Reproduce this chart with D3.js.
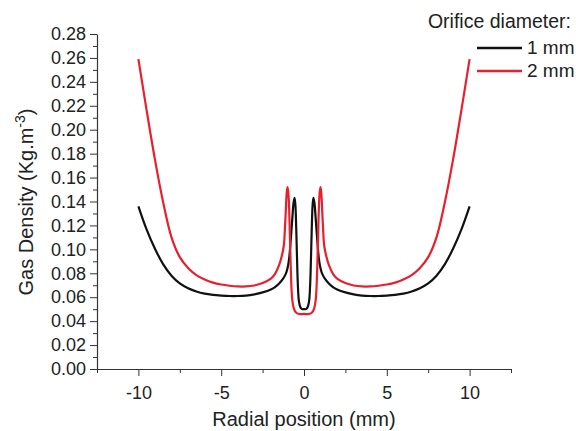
<!DOCTYPE html>
<html>
<head>
<meta charset="utf-8">
<script src="https://cdn.jsdelivr.net/npm/d3@7"></script>
<style>
  body { margin: 0; background: #fff; }
  svg { font-family: "Liberation Sans", Arial, sans-serif; }
</style>
</head>
<body>
<svg id="chart" width="576" height="431"></svg>
<script>
// radial positions (mm) for each series
const xs1mm = [-10, -9.5, -9, -8.5, -8, -7.5, -7, -6.5, -6, -5.5, -5, -4.5, -4, -3.5, -3, -2.5, -2, -1.75, -1.5, -1.25, -1.1, -1, -0.9, -0.8, -0.7, -0.63, -0.57, -0.52, -0.47, -0.42, -0.37, -0.3, -0.2, -0.1, 0,
               0.1, 0.2, 0.3, 0.37, 0.42, 0.47, 0.52, 0.57, 0.63, 0.7, 0.8, 0.9, 1, 1.1, 1.25, 1.5, 1.75, 2, 2.5, 3, 3.5, 4, 4.5, 5, 5.5, 6, 6.5, 7, 7.5, 8, 8.5, 9, 9.5, 10];
const density1mm = [0.136, 0.1165, 0.1005, 0.0875, 0.078, 0.0715, 0.0675, 0.0648, 0.063, 0.062, 0.0614, 0.061, 0.061, 0.0614, 0.0624, 0.064, 0.0665, 0.0685, 0.0715, 0.0758, 0.0795, 0.084, 0.092, 0.108, 0.127, 0.139, 0.143, 0.137, 0.118, 0.092, 0.070, 0.056, 0.051, 0.050, 0.050,
                    0.050, 0.051, 0.056, 0.070, 0.092, 0.118, 0.137, 0.143, 0.139, 0.127, 0.108, 0.092, 0.084, 0.0795, 0.0758, 0.0715, 0.0685, 0.0665, 0.064, 0.0624, 0.0614, 0.061, 0.061, 0.0614, 0.062, 0.063, 0.0648, 0.0675, 0.0715, 0.078, 0.0875, 0.1005, 0.1165, 0.136];

const xs2mm = [-10, -9.5, -9, -8.5, -8, -7.5, -7, -6.5, -6, -5.5, -5, -4.5, -4, -3.5, -3, -2.5, -2, -1.75, -1.5, -1.35, -1.22, -1.15, -1.1, -1.05, -1, -0.95, -0.9, -0.85, -0.8, -0.75, -0.7, -0.6, -0.5, -0.3, 0,
               0.3, 0.5, 0.6, 0.7, 0.75, 0.8, 0.85, 0.9, 0.95, 1, 1.05, 1.1, 1.15, 1.22, 1.35, 1.5, 1.75, 2, 2.5, 3, 3.5, 4, 4.5, 5, 5.5, 6, 6.5, 7, 7.5, 8, 8.5, 9, 9.5, 10];
const density2mm = [0.259, 0.216, 0.175, 0.139, 0.110, 0.0935, 0.0845, 0.0785, 0.0748, 0.0722, 0.0706, 0.0696, 0.069, 0.069, 0.0698, 0.0718, 0.0755, 0.0795, 0.087, 0.094, 0.103, 0.118, 0.132, 0.146, 0.152, 0.148, 0.135, 0.110, 0.085, 0.066, 0.057, 0.050, 0.0475, 0.046, 0.046,
                    0.046, 0.0475, 0.050, 0.057, 0.066, 0.085, 0.110, 0.135, 0.148, 0.152, 0.146, 0.132, 0.118, 0.103, 0.094, 0.087, 0.0795, 0.0755, 0.0718, 0.0698, 0.069, 0.069, 0.0696, 0.0706, 0.0722, 0.0748, 0.0785, 0.0845, 0.0935, 0.110, 0.139, 0.175, 0.216, 0.259];

const xTicks = [-10, -5, 0, 5, 10];
const xMinorTicks = [-12.5, -7.5, -2.5, 2.5, 7.5, 12.5];
const yTicks = [0, 0.02, 0.04, 0.06, 0.08, 0.10, 0.12, 0.14, 0.16, 0.18, 0.20, 0.22, 0.24, 0.26, 0.28];
const yMinorTicks = [0.01, 0.03, 0.05, 0.07, 0.09, 0.11, 0.13, 0.15, 0.17, 0.19, 0.21, 0.23, 0.25, 0.27];

const seriesNames = ["1 mm", "2 mm"];
const seriesColors = ["#111111", "#e8202e"];

const svg = d3.select('#chart');
const textColor = '#222';

const x = d3.scaleLinear().domain([-12.5, 12.5]).range([97, 511]);
const y = d3.scaleLinear().domain([0, 0.28]).range([369, 34]);

// minor ticks first so the major axis draws over them
svg.append('g')
  .attr('transform', `translate(0,${y(0)})`)
  .call(d3.axisBottom(x).tickValues(xMinorTicks).tickSize(4).tickFormat(''))
  .call(g => g.select('.domain').remove())
  .selectAll('line').attr('stroke', '#333');

svg.append('g')
  .attr('transform', `translate(${x(-12.5)},0)`)
  .call(d3.axisLeft(y).tickValues(yMinorTicks).tickSize(4).tickFormat(''))
  .call(g => g.select('.domain').remove())
  .selectAll('line').attr('stroke', '#333');

const xAxis = svg.append('g')
  .attr('transform', `translate(0,${y(0)})`)
  .call(d3.axisBottom(x).tickValues(xTicks).tickSize(7).tickSizeOuter(0).tickPadding(6)
    .tickFormat(d => String(d)));   // plain hyphen like the original

const yAxis = svg.append('g')
  .attr('transform', `translate(${x(-12.5)},0)`)
  .call(d3.axisLeft(y).tickValues(yTicks).tickSize(7).tickSizeOuter(0).tickPadding(4).tickFormat(d3.format('.2f')));

[xAxis, yAxis].forEach(g => {
  g.select('.domain').attr('stroke', '#333').attr('stroke-width', 1.2);
  g.selectAll('.tick line').attr('stroke', '#333');
  g.selectAll('.tick text').attr('fill', textColor).attr('font-size', 18)
    .attr('font-family', '"Liberation Sans", Arial, sans-serif');
});
xAxis.selectAll('.tick text').attr('dy', '0.95em');

// axis titles
svg.append('text')
  .attr('x', (x(-12.5) + x(12.5)) / 2)
  .attr('y', 426)
  .attr('text-anchor', 'middle')
  .attr('font-size', 20)
  .attr('fill', textColor)
  .text('Radial position (mm)');

const yTitle = svg.append('text')
  .attr('transform', 'translate(33,202) rotate(-90)')
  .attr('text-anchor', 'middle')
  .attr('font-size', 20)
  .attr('fill', textColor);
yTitle.append('tspan').text('Gas Density (Kg.m');
yTitle.append('tspan').attr('font-size', 14).attr('dy', -8).text('-3');
yTitle.append('tspan').attr('dy', 8).text(')');

// curves
const line = d3.line()
  .x(d => x(d[0]))
  .y(d => y(d[1]))
  .curve(d3.curveCatmullRom.alpha(0.5));

const series = [
  d3.zip(xs1mm, density1mm),
  d3.zip(xs2mm, density2mm)
];

series.forEach((s, i) => {
  svg.append('path')
    .datum(s)
    .attr('fill', 'none')
    .attr('stroke', seriesColors[i])
    .attr('stroke-width', 2.2)
    .attr('stroke-linejoin', 'round')
    .attr('d', line);
});

// legend
svg.append('text')
  .attr('x', 571)
  .attr('y', 28)
  .attr('text-anchor', 'end')
  .attr('font-size', 19.5)
  .attr('fill', textColor)
  .text('Orifice diameter:');

seriesNames.forEach((name, i) => {
  const ly = 48 + i * 23;
  svg.append('line')
    .attr('x1', 477).attr('x2', 522)
    .attr('y1', ly).attr('y2', ly)
    .attr('stroke', seriesColors[i])
    .attr('stroke-width', 2.4);
  svg.append('text')
    .attr('x', 527)
    .attr('y', ly + 6)
    .attr('font-size', 19)
    .attr('fill', textColor)
    .text(name);
});
</script>
</body>
</html>
